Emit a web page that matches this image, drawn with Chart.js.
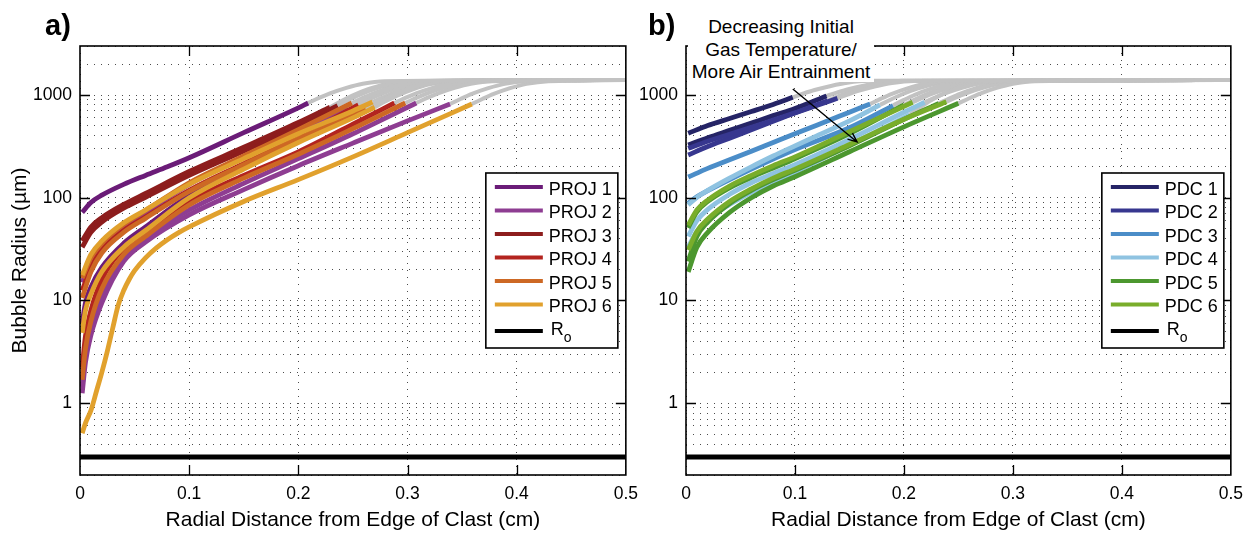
<!DOCTYPE html>
<html lang="en">
<head>
<meta charset="UTF-8">
<title>Bubble Radius vs Radial Distance</title>
<script src="https://cdn.jsdelivr.net/npm/chart.js"></script>
<style>
  body { margin: 0; background: #fff; font-family: "Liberation Sans", Arial, Helvetica, sans-serif; }
  #wrap { position: relative; width: 1252px; height: 536px; overflow: hidden; }
  canvas { position: absolute; top: 0; }
  #chartA { left: 0; }
  #chartB { left: 640px; }
  .panel-label { position: absolute; top: 10px; font-weight: bold; font-size: 29px; line-height: 30px; color: #000; }
  .note {
    position: absolute; left: 688px; top: 12px; width: 186px; height: 70px;
    box-sizing: border-box; padding-top: 4px; background: #fff;
    text-align: center; font-size: 19px; line-height: 22.5px; color: #000;
  }
</style>
</head>
<body>
<div id="wrap">
  <canvas id="chartA" width="647" height="536"></canvas>
  <canvas id="chartB" width="612" height="536"></canvas>
  <div class="panel-label" style="left:45px">a)</div>
  <div class="panel-label" style="left:648px">b)</div>
  <div class="note">Decreasing Initial<br>Gas Temperature/<br>More Air Entrainment</div>
</div>

<script>
// axes
const xTicks = [0, 0.1, 0.2, 0.3, 0.4, 0.5];
const yGrid = [0.2, 0.3, 0.4, 0.5, 0.6, 0.7, 0.8, 0.9,
  1, 2, 3, 4, 5, 6, 7, 8, 9,
  10, 20, 30, 40, 50, 60, 70, 80, 90,
  100, 200, 300, 400, 500, 600, 700, 800, 900,
  1000, 2000, 3000];
const yLabelled = [1, 10, 100, 1000];
const roRadius = 0.3;

// projectile runs (a): each entry is one run, [distance cm, radius um]
const projLabels = ['PROJ 1', 'PROJ 2', 'PROJ 3', 'PROJ 4', 'PROJ 5', 'PROJ 6'];
const projColors = ['#6b1c78', '#8e3d92', '#8d1d1d', '#b3241f', '#cd6824', '#e1a12d'];

const proj1 = [
  [[0.002,72],[0.01,90],[0.02,106],[0.04,135],[0.06,165],[0.08,200],[0.1,245],[0.15,430],[0.2,750],[0.209,836]],
  [[0.002,6],[0.005,9.5],[0.01,13.5],[0.02,21],[0.04,36],[0.06,52],[0.1,105],[0.15,200],[0.2,360],[0.25,620],[0.262,700]]
];
const proj2 = [
  [[0.002,15],[0.01,24],[0.02,34],[0.04,53],[0.06,72],[0.1,135],[0.15,250],[0.2,450],[0.245,760]],
  [[0.002,1.45],[0.005,2.9],[0.01,5.4],[0.02,11],[0.04,27],[0.06,41],[0.1,76],[0.15,138],[0.2,240],[0.25,420],[0.308,836]],
  [[0.002,1.25],[0.005,2.5],[0.01,4.6],[0.02,9.5],[0.04,24],[0.06,37],[0.1,68],[0.15,120],[0.2,205],[0.25,340],[0.3,560],[0.339,817]]
];
const proj3 = [
  [[0.002,38],[0.01,52],[0.02,64],[0.04,86],[0.06,110],[0.1,180],[0.15,310],[0.2,540],[0.229,760]],
  [[0.002,33],[0.01,46],[0.02,58],[0.04,79],[0.06,101],[0.1,165],[0.15,285],[0.2,500],[0.236,790]]
];
const proj4 = [
  [[0.002,2.21],[0.005,4.5],[0.01,8],[0.02,16],[0.04,32],[0.06,47],[0.1,92],[0.15,165],[0.2,280],[0.25,520],[0.288,836]],
  [[0.002,12.5],[0.01,21],[0.02,31],[0.04,48],[0.06,65],[0.1,118],[0.15,215],[0.2,390],[0.255,800]]
];
const proj5 = [
  [[0.002,16.5],[0.01,26],[0.02,36],[0.04,55],[0.06,75],[0.1,140],[0.15,255],[0.2,460],[0.249,836]],
  [[0.002,10.6],[0.01,19],[0.02,29],[0.04,46],[0.06,63],[0.1,115],[0.15,210],[0.2,375],[0.25,640],[0.262,720]],
  [[0.002,1.69],[0.005,3.4],[0.01,6.3],[0.02,13],[0.04,28],[0.06,42],[0.1,85],[0.15,155],[0.2,265],[0.25,470],[0.298,836]]
];
const proj6 = [
  [[0.002,17.7],[0.01,28],[0.02,38],[0.04,57],[0.06,76],[0.1,135],[0.15,240],[0.2,420],[0.25,700],[0.268,855]],
  [[0.002,4.84],[0.005,8],[0.01,11.5],[0.02,19],[0.04,33],[0.06,48],[0.1,100],[0.15,190],[0.2,345],[0.25,600],[0.27,760]],
  [[0.002,0.51],[0.005,0.64],[0.01,0.85],[0.015,1.3],[0.02,2.0],[0.025,3.2],[0.03,5.4],[0.035,9],[0.04,12.5],[0.045,16],[0.05,19.5],[0.06,26],[0.07,32.5],[0.08,39],[0.09,45.5],[0.1,52],[0.15,92],[0.2,150],[0.25,250],[0.3,430],[0.359,817]]
];
// grey continuation of each projectile run up to the plateau
const projTails = [
  [[0.209,836],[0.219,937],[0.229,1038],[0.244,1175],[0.259,1289],[0.279,1364],[0.5,1400]],
  [[0.262,700],[0.272,816],[0.282,937],[0.297,1106],[0.312,1253],[0.332,1352],[0.5,1400]],
  [[0.245,760],[0.255,869],[0.265,982],[0.28,1138],[0.295,1270],[0.315,1357],[0.5,1400]],
  [[0.308,836],[0.318,937],[0.328,1038],[0.343,1175],[0.358,1289],[0.378,1364],[0.5,1400]],
  [[0.339,817],[0.349,920],[0.359,1025],[0.374,1166],[0.389,1284],[0.409,1363],[0.5,1400]],
  [[0.229,760],[0.239,869],[0.249,982],[0.264,1138],[0.279,1270],[0.299,1357],[0.5,1400]],
  [[0.236,790],[0.246,896],[0.256,1005],[0.271,1153],[0.286,1277],[0.306,1360],[0.5,1400]],
  [[0.288,836],[0.298,937],[0.308,1038],[0.323,1175],[0.338,1289],[0.358,1364],[0.5,1400]],
  [[0.255,800],[0.265,905],[0.275,1012],[0.29,1158],[0.305,1280],[0.325,1362],[0.5,1400]],
  [[0.249,836],[0.259,937],[0.269,1038],[0.284,1175],[0.299,1289],[0.319,1364],[0.5,1400]],
  [[0.262,720],[0.272,833],[0.282,952],[0.297,1117],[0.312,1259],[0.332,1354],[0.5,1400]],
  [[0.298,836],[0.308,937],[0.318,1038],[0.333,1175],[0.348,1289],[0.368,1364],[0.5,1400]],
  [[0.268,855],[0.278,953],[0.288,1052],[0.303,1183],[0.318,1294],[0.338,1366],[0.5,1400]],
  [[0.27,760],[0.28,869],[0.29,982],[0.305,1138],[0.32,1270],[0.34,1357],[0.5,1400]],
  [[0.359,817],[0.369,920],[0.379,1025],[0.394,1166],[0.409,1284],[0.429,1363],[0.5,1400]]
];

// PDC runs (b)
const pdcLabels = ['PDC 1', 'PDC 2', 'PDC 3', 'PDC 4', 'PDC 5', 'PDC 6'];
const pdcColors = ['#252466', '#37378f', '#4b8dc8', '#8fc3e1', '#4c972f', '#79ad2b'];

const pdc1 = [
  [[0.002,424],[0.02,505],[0.04,590],[0.06,690],[0.08,810],[0.098,950]],
  [[0.002,326],[0.02,384],[0.04,453],[0.06,534],[0.08,630],[0.1,740],[0.129,980]]
];
const pdc2 = [
  [[0.002,303],[0.02,355],[0.04,415],[0.06,485],[0.08,570],[0.1,670],[0.12,790],[0.139,930]],
  [[0.002,261],[0.02,315],[0.04,380],[0.06,460],[0.08,555],[0.1,670],[0.13,880]]
];
const pdc3 = [
  [[0.002,159],[0.02,193],[0.04,234],[0.06,284],[0.08,345],[0.1,419],[0.12,508],[0.15,680],[0.169,818]],
  [[0.002,88],[0.01,102],[0.02,117],[0.04,150],[0.06,190],[0.08,238],[0.1,295],[0.15,480],[0.19,790]]
];
const pdc4 = [
  [[0.002,85],[0.01,101],[0.02,118],[0.04,155],[0.06,200],[0.08,255],[0.1,320],[0.12,400],[0.15,560],[0.178,800]],
  [[0.002,42],[0.01,60],[0.02,77],[0.04,108],[0.06,140],[0.08,172],[0.1,210],[0.15,370],[0.2,680],[0.219,850]],
  [[0.002,33],[0.01,47],[0.02,61],[0.04,86],[0.06,113],[0.08,143],[0.1,178],[0.15,325],[0.205,640]]
];
const pdc5 = [
  [[0.002,51],[0.01,73],[0.02,92],[0.04,125],[0.06,158],[0.08,195],[0.1,240],[0.15,420],[0.2,800]],
  [[0.002,24],[0.01,42],[0.02,58],[0.04,88],[0.06,118],[0.08,150],[0.1,185],[0.15,320],[0.2,580],[0.232,830]],
  [[0.002,19],[0.01,33],[0.02,46],[0.04,72],[0.06,100],[0.08,130],[0.1,160],[0.15,280],[0.2,490],[0.25,830]]
];
const pdc6 = [
  [[0.002,54],[0.01,76],[0.02,95],[0.04,130],[0.06,165],[0.08,205],[0.1,250],[0.15,440],[0.208,850]],
  [[0.002,31],[0.01,47],[0.02,62],[0.04,92],[0.06,122],[0.08,155],[0.1,190],[0.15,330],[0.2,580],[0.239,860]]
];
const pdcTails = [
  [[0.098,950],[0.108,1035],[0.118,1118],[0.133,1226],[0.148,1316],[0.168,1373],[0.5,1400]],
  [[0.129,980],[0.139,1060],[0.149,1139],[0.164,1241],[0.179,1322],[0.199,1375],[0.5,1400]],
  [[0.139,930],[0.149,1017],[0.159,1104],[0.174,1218],[0.189,1311],[0.209,1372],[0.5,1400]],
  [[0.13,880],[0.14,975],[0.15,1069],[0.165,1196],[0.18,1300],[0.2,1368],[0.5,1400]],
  [[0.169,818],[0.179,921],[0.189,1026],[0.204,1167],[0.219,1286],[0.239,1364],[0.5,1400]],
  [[0.19,790],[0.2,896],[0.21,1005],[0.225,1153],[0.24,1277],[0.26,1360],[0.5,1400]],
  [[0.178,800],[0.188,905],[0.198,1012],[0.213,1158],[0.228,1280],[0.248,1362],[0.5,1400]],
  [[0.219,850],[0.229,949],[0.239,1048],[0.254,1182],[0.269,1293],[0.289,1365],[0.5,1400]],
  [[0.205,640],[0.215,760],[0.225,890],[0.24,1073],[0.255,1236],[0.275,1346],[0.5,1400]],
  [[0.2,800],[0.21,905],[0.22,1012],[0.235,1158],[0.25,1280],[0.27,1362],[0.5,1400]],
  [[0.232,830],[0.242,931],[0.252,1033],[0.267,1172],[0.282,1287],[0.302,1364],[0.5,1400]],
  [[0.25,830],[0.26,931],[0.27,1033],[0.285,1172],[0.3,1287],[0.32,1364],[0.5,1400]],
  [[0.208,850],[0.218,949],[0.228,1048],[0.243,1182],[0.258,1293],[0.278,1365],[0.5,1400]],
  [[0.239,860],[0.249,957],[0.259,1055],[0.274,1186],[0.289,1294],[0.309,1367],[0.5,1400]]
];

// arrow in (b), data coordinates
const arrowFrom = [0.098, 1143];
const arrowTo = [0.157, 349];

const tailColor = '#c2c2c2';
const gridColor = 'rgba(0,0,0,0.7)';
const fontFamily = '"Liberation Sans", Arial, Helvetica, sans-serif';
Chart.defaults.font.family = fontFamily;
Chart.defaults.color = '#000';

function toPoints(c) {
  return c.map(([x, y]) => ({ x, y }));
}

function buildDatasets(series, colors, tails) {
  const sets = [];
  series.forEach((runs, i) => {
    runs.forEach(run => sets.push({
      data: toPoints(run), borderColor: colors[i], borderWidth: 4.8, order: 10 - i
    }));
  });
  tails.forEach(t => sets.push({ data: toPoints(t), borderColor: tailColor, borderWidth: 4, order: 20 }));
  sets.push({
    data: [{ x: 0, y: roRadius }, { x: 0.5, y: roRadius }],
    borderColor: '#000', borderWidth: 5, order: 0
  });
  return sets;
}

// box frame with inward ticks on all four sides
const frameTicks = {
  id: 'frameTicks',
  afterDatasetsDraw(chart) {
    const { ctx, chartArea: a, scales: { x, y } } = chart;
    ctx.save();
    ctx.strokeStyle = '#000';
    ctx.lineWidth = 1.6;
    ctx.strokeRect(a.left, a.top, a.right - a.left, a.bottom - a.top);
    ctx.beginPath();
    xTicks.forEach(v => {
      if (v <= x.min || v >= x.max) return;
      const px = Math.round(x.getPixelForValue(v)) + 0.5;
      ctx.moveTo(px, a.bottom); ctx.lineTo(px, a.bottom - 10);
      ctx.moveTo(px, a.top); ctx.lineTo(px, a.top + 10);
    });
    yLabelled.forEach(v => {
      const py = Math.round(y.getPixelForValue(v)) + 0.5;
      ctx.moveTo(a.left, py); ctx.lineTo(a.left + 10, py);
      ctx.moveTo(a.right, py); ctx.lineTo(a.right - 10, py);
    });
    ctx.lineWidth = 1.3;
    ctx.stroke();
    ctx.restore();
  }
};

// legend drawn inside the axes, with a framed white box
const boxLegend = {
  id: 'boxLegend',
  afterDraw(chart, args, opts) {
    const { ctx, chartArea } = chart;
    const right = chartArea.right - opts.inset;
    const left = right - opts.width;
    const top = opts.top;
    ctx.save();
    ctx.fillStyle = '#fff';
    ctx.fillRect(left, top, opts.width, 175);
    ctx.strokeStyle = '#000';
    ctx.lineWidth = 1.6;
    ctx.strokeRect(left, top, opts.width, 175);
    ctx.font = '18px ' + fontFamily;
    ctx.textBaseline = 'alphabetic';
    ctx.fillStyle = '#000';
    const row = (ly, color) => {
      ctx.strokeStyle = color;
      ctx.lineWidth = 4;
      ctx.beginPath();
      ctx.moveTo(left + 9, ly);
      ctx.lineTo(left + 57, ly);
      ctx.stroke();
    };
    opts.labels.forEach((label, i) => {
      const ly = top + 14 + i * 23.5;
      row(ly, opts.colors[i]);
      ctx.fillText(label, left + 63, ly + 7.5);
    });
    const ry = top + 158;
    row(ry, '#000');
    ctx.fillText('R', left + 65, ry + 4);
    ctx.font = '14px ' + fontFamily;
    ctx.fillText('o', left + 78, ry + 11);
    ctx.restore();
  }
};

const arrowNote = {
  id: 'arrowNote',
  afterDraw(chart) {
    const { ctx, scales: { x, y } } = chart;
    const x0 = x.getPixelForValue(arrowFrom[0]), y0 = y.getPixelForValue(arrowFrom[1]);
    const x1 = x.getPixelForValue(arrowTo[0]), y1 = y.getPixelForValue(arrowTo[1]);
    const ang = Math.atan2(y1 - y0, x1 - x0);
    ctx.save();
    ctx.strokeStyle = '#000';
    ctx.lineWidth = 1.4;
    ctx.beginPath();
    ctx.moveTo(x0, y0);
    ctx.lineTo(x1, y1);
    ctx.moveTo(x1 - 10 * Math.cos(ang - 0.4), y1 - 10 * Math.sin(ang - 0.4));
    ctx.lineTo(x1, y1);
    ctx.lineTo(x1 - 10 * Math.cos(ang + 0.4), y1 - 10 * Math.sin(ang + 0.4));
    ctx.stroke();
    ctx.restore();
  }
};

function makeOptions(p) {
  return {
    responsive: false,
    animation: false,
    devicePixelRatio: 1,
    layout: { padding: { left: 0, right: 21, top: 46, bottom: 0 } },
    elements: {
      line: { tension: 0, cubicInterpolationMode: 'monotone', borderCapStyle: 'butt', borderJoinStyle: 'round', fill: false },
      point: { radius: 0, hoverRadius: 0 }
    },
    plugins: {
      legend: { display: false },
      tooltip: { enabled: false },
      boxLegend: { labels: p.labels, colors: p.colors, width: p.legendWidth, inset: p.legendInset, top: 173 }
    },
    scales: {
      x: {
        type: 'linear',
        min: 0, max: 0.5,
        afterBuildTicks: s => { s.ticks = xTicks.map(v => ({ value: v })); },
        afterFit: s => { s.height = 61; },
        ticks: { font: { size: 17.5 }, color: '#000', padding: 9, callback: v => String(v) },
        grid: { color: gridColor, lineWidth: 1, drawTicks: false },
        border: { display: false, dash: [1, 6] },
        title: {
          display: true, text: 'Radial Distance from Edge of Clast (cm)',
          font: { size: 21 }, color: '#000', padding: { top: 0, bottom: 3 }
        }
      },
      y: {
        type: 'logarithmic',
        min: 0.2, max: 3000,
        afterBuildTicks: s => { s.ticks = yGrid.map(v => ({ value: v })); },
        afterFit: s => { s.width = p.yWidth; },
        ticks: {
          autoSkip: false, font: { size: 17.5 }, color: '#000', padding: 8,
          callback: v => yLabelled.includes(v) ? String(v) : ''
        },
        grid: { color: gridColor, lineWidth: 1, drawTicks: false },
        border: { display: false, dash: [1, 6] },
        title: {
          display: p.yTitle, text: 'Bubble Radius (\u00b5m)',
          font: { size: 21 }, color: '#000', padding: { top: 8, bottom: 0 }
        }
      }
    }
  };
}

new Chart(document.getElementById('chartA'), {
  type: 'line',
  data: { datasets: buildDatasets([proj1, proj2, proj3, proj4, proj5, proj6], projColors, projTails) },
  options: makeOptions({
    yWidth: 80, yTitle: true,
    labels: projLabels, colors: projColors, legendWidth: 132, legendInset: 8
  }),
  plugins: [frameTicks, boxLegend]
});

new Chart(document.getElementById('chartB'), {
  type: 'line',
  data: { datasets: buildDatasets([pdc1, pdc2, pdc3, pdc4, pdc5, pdc6], pdcColors, pdcTails) },
  options: makeOptions({
    yWidth: 46, yTitle: false,
    labels: pdcLabels, colors: pdcColors, legendWidth: 122, legendInset: 7
  }),
  plugins: [frameTicks, boxLegend, arrowNote]
});
</script>
</body>
</html>
